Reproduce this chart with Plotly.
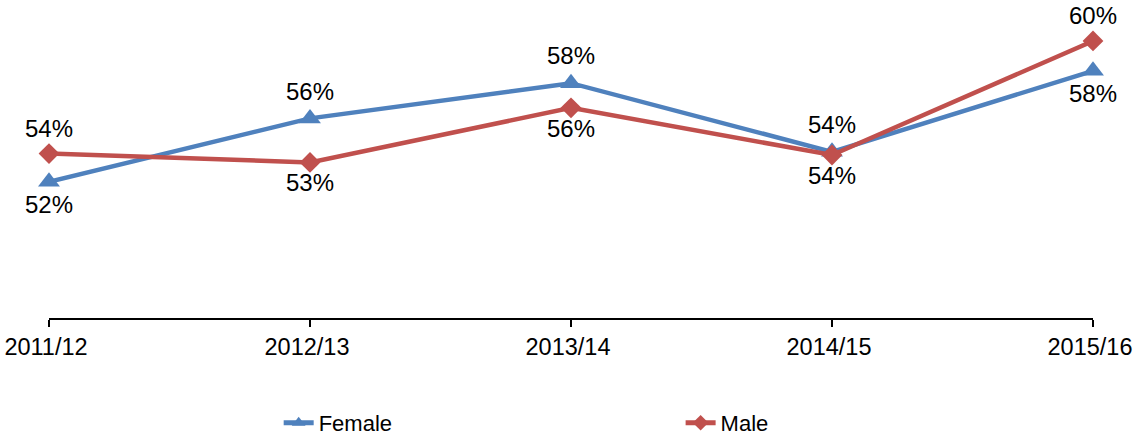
import plotly.graph_objects as go

years = ["2011/12", "2012/13", "2013/14", "2014/15", "2015/16"]
female = [52.0, 55.6, 57.6, 53.7, 58.3]
male = [53.6, 53.1, 56.2, 53.52, 60.0]

female_pos = ["bottom center", "top center", "top center", "top center", "bottom center"]
male_pos = ["top center", "bottom center", "bottom center", "bottom center", "top center"]

BLUE = "#4F81BD"
RED = "#C0504D"
FONT = "Liberation Sans, Arial, sans-serif"
FS = 24

fig = go.Figure()
fig.add_trace(go.Scatter(
    x=years, y=female, name="Female", mode="lines+markers+text",
    line=dict(color=BLUE, width=4.5),
    marker=dict(symbol="triangle-up", size=19, color=BLUE),
    texttemplate="%{y:.0f}%", textposition=female_pos,
    textfont=dict(family=FONT, size=FS, color="black"),
    cliponaxis=False, legend="legend",
))
fig.add_trace(go.Scatter(
    x=years, y=male, name="Male", mode="lines+markers+text",
    line=dict(color=RED, width=4.5),
    marker=dict(symbol="diamond", size=16, color=RED),
    texttemplate="%{y:.0f}%", textposition=male_pos,
    textfont=dict(family=FONT, size=FS, color="black"),
    cliponaxis=False, legend="legend2",
))

leg_common = dict(orientation="h", xanchor="left", y=-0.352, yanchor="middle",
                  font=dict(family=FONT, size=22, color="black"),
                  itemsizing="constant", bgcolor="rgba(0,0,0,0)")

fig.update_layout(
    width=1134, height=435,
    margin=dict(l=49, r=41, t=20, b=117, autoexpand=False),
    paper_bgcolor="white", plot_bgcolor="white",
    font=dict(family=FONT, size=FS, color="black"),
    showlegend=True,
    legend=dict(x=0.22, **leg_common),
    legend2=dict(x=0.605, **leg_common),
    xaxis=dict(type="category", range=[0, 4], showline=True, linecolor="black", linewidth=1.5,
               ticks="outside", ticklen=7, tickwidth=1.5, tickcolor="black",
               showgrid=False, zeroline=False, automargin=False,
               ticklabelshift=-3,
               tickfont=dict(family=FONT, size=23.5, color="black")),
    yaxis=dict(range=[44.26, 61.19], visible=False, showgrid=False, zeroline=False,
               automargin=False),
)

fig.write_html("out.html", config={"displayModeBar": False},
               post_script="document.body.style.margin='0';document.body.style.overflow='hidden';")
